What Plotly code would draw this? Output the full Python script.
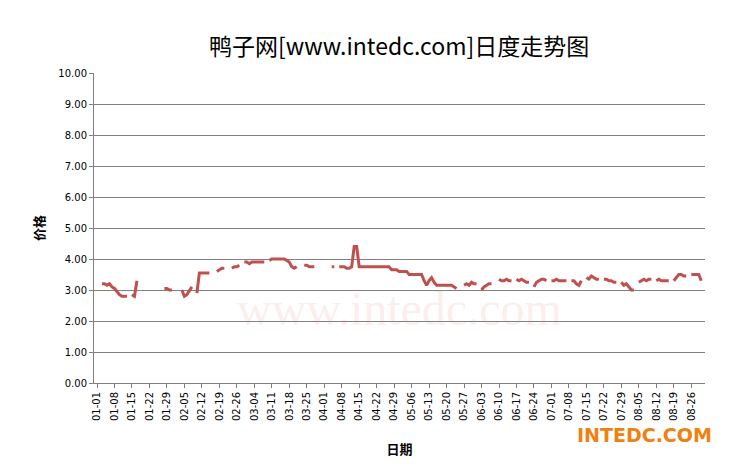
import plotly.graph_objects as go
import datetime as dt

N = None
start = dt.date(2012, 1, 1)
prices = [
    N, N, 3.2, 3.2, 3.15, 3.2, 3.1,
    3.05, 2.95, 2.85, 2.8, 2.8, 2.8, N,
    2.85, 2.8, 3.3, N, N, N, N,
    N, N, N, N, N, N, 3.05,
    3.05, 3.0, 3.0, N, N, N, 3.0,
    2.8, 2.85, 3.0, 3.1, N, 2.9, 3.55,
    3.55, 3.55, 3.55, 3.55, N, N, 3.6,
    3.65, 3.7, 3.7, N, N, 3.7, 3.75,
    3.75, 3.8, N, 3.9, 3.9, 3.85, 3.9,
    3.9, 3.9, 3.9, 3.9, 3.9, N, 3.95,
    4.0, 4.0, 4.0, 4.0, 4.0, 4.0, 3.95,
    3.9, 3.75, 3.7, 3.75, N, N, 3.8,
    3.8, 3.75, 3.75, 3.75, N, N, N,
    N, N, N, 3.75, 3.75, N, 3.75,
    3.75, 3.75, 3.7, 3.7, 3.75, 4.4, 4.4,
    3.75, 3.75, 3.75, 3.75, 3.75, 3.75, 3.75,
    3.75, 3.75, 3.75, 3.75, 3.75, 3.75, 3.65,
    3.65, 3.65, 3.6, 3.6, 3.6, 3.6, 3.5,
    3.5, 3.5, 3.5, 3.5, 3.5, 3.3, 3.15,
    3.3, 3.4, 3.25, 3.15, 3.15, 3.15, 3.15,
    3.15, 3.15, 3.15, 3.1, 3.05, N, N,
    3.15, 3.2, 3.15, 3.25, 3.2, 3.2, N,
    3.0, 3.1, 3.15, 3.2, 3.2, N, N,
    3.35, 3.3, 3.3, 3.35, 3.3, 3.3, N,
    3.35, 3.3, 3.35, 3.3, 3.25, 3.25, N,
    3.1, 3.25, 3.3, 3.35, 3.35, 3.3, N,
    3.3, 3.3, 3.35, 3.3, 3.3, 3.3, 3.3,
    N, 3.3, 3.3, 3.2, 3.15, 3.3, N,
    3.4, 3.35, 3.45, 3.4, 3.35, 3.35, N,
    3.35, 3.35, 3.3, 3.3, 3.25, 3.25, N,
    3.25, 3.15, 3.2, 3.1, 3.0, 3.0, N,
    3.25, 3.3, 3.35, 3.3, 3.35, 3.35, N,
    3.3, 3.35, 3.3, 3.3, 3.3, 3.3, N,
    3.3, 3.4, 3.5, 3.5, 3.45, 3.45, N,
    3.5, 3.5, 3.5, 3.5, 3.3,
]
dates = [(start + dt.timedelta(days=i)).strftime("%m-%d") for i in range(len(prices))]
tick_labels = dates[::7]
y_ticks = [i * 1.0 for i in range(11)]

fig = go.Figure()
fig.add_trace(go.Scatter(x=dates, y=prices, mode="lines", connectgaps=False,
                         line=dict(color="#C0504D", width=3)))
fig.update_layout(
    width=738, height=476, margin=dict(l=86, r=41, t=65, b=101, autoexpand=False),
    paper_bgcolor="white", plot_bgcolor="white", showlegend=False,
    font=dict(family="DejaVu Sans", size=11, color="black"),
    title=dict(text="鸭子网[www.intedc.com]日度走势图", x=0.53, y=0.935, xanchor="center",
               font=dict(family="Noto Sans CJK SC", size=23, color="black")),
    xaxis=dict(type="category", tickvals=tick_labels, ticktext=tick_labels, tickangle=-90,
               range=[-1.2, 243.5], showgrid=False, showline=True, linecolor="#808080",
               ticks="outside", ticklen=4, tickcolor="#808080", automargin=False,
               tickfont=dict(size=10),
               title=dict(text="<b>日期</b>", font=dict(family="Noto Sans CJK SC", size=13), standoff=24)),
    yaxis=dict(range=[0, 10], tickvals=y_ticks, tickformat=".2f", showgrid=True, automargin=False,
               gridcolor="#808080", showline=True, linecolor="#808080", ticks="outside",
               ticklen=4, tickcolor="#808080", tickfont=dict(size=10),
               title=dict(text="<b>价格</b>", font=dict(family="Noto Sans CJK SC", size=13), standoff=10)),
)
fig.add_annotation(text="www.intedc.com", x=0.5, y=0.15, xref="paper", yref="paper", showarrow=False,
                   font=dict(size=48, color="rgba(230,120,110,0.15)", family="Liberation Serif"))
fig.add_annotation(text="<b>INTEDC.COM</b>", x=1.015, y=-0.21, xref="paper", yref="paper", showarrow=False,
                   xanchor="right", font=dict(size=19, color="#F08010", family="DejaVu Sans"))
fig.write_html("out.html")
